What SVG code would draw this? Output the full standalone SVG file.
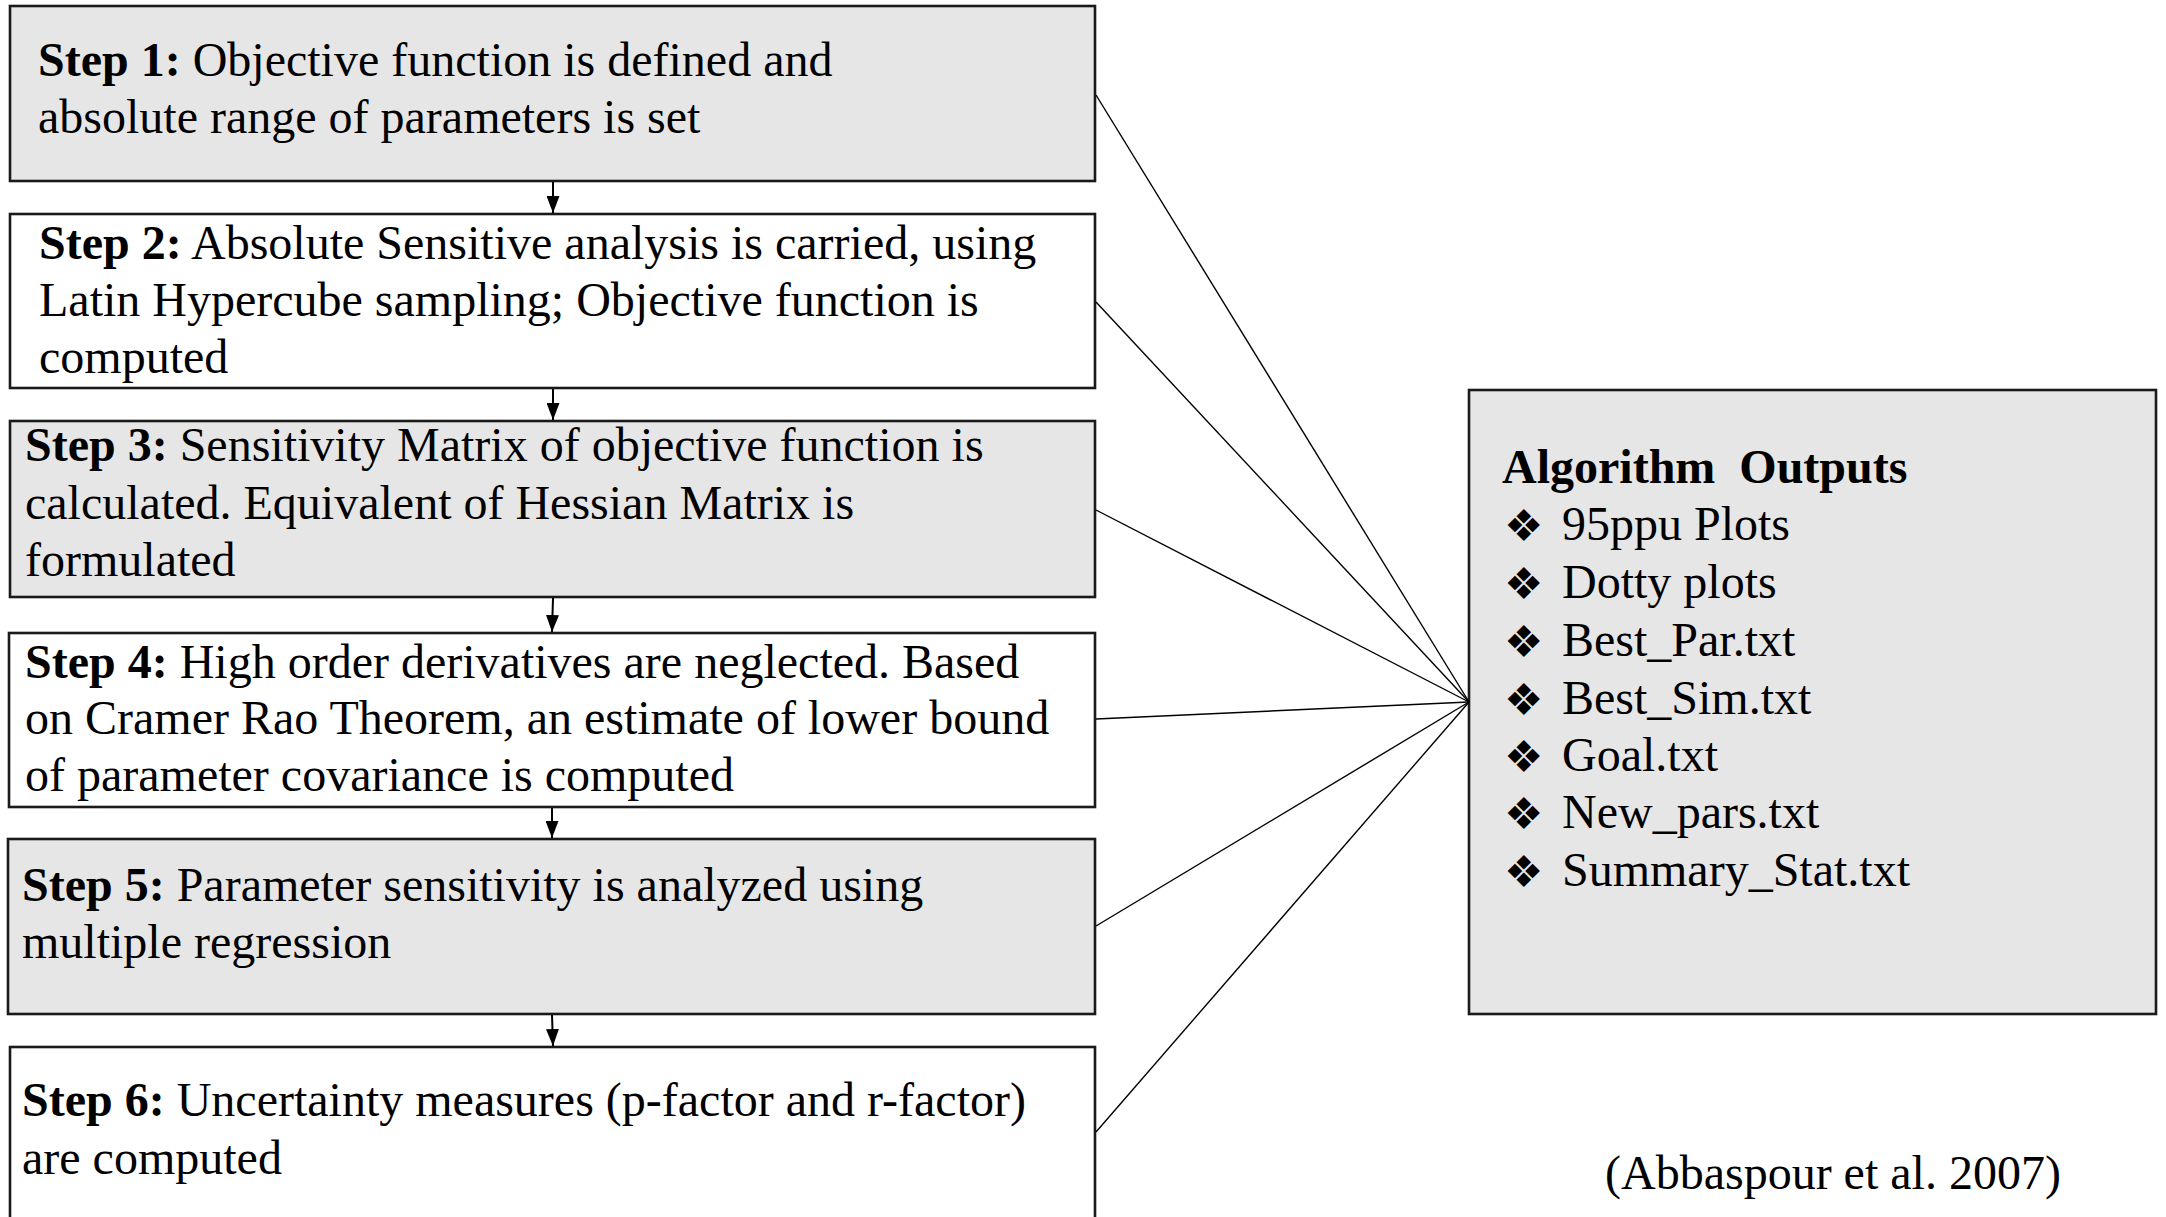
<svg xmlns="http://www.w3.org/2000/svg" width="2166" height="1217" viewBox="0 0 2166 1217">
<style>
.box{stroke:#1a1a1a;stroke-width:2.6}
.g{fill:#e6e6e6}
.w{fill:#ffffff}
text{font-family:"Liberation Serif","Times New Roman",serif;font-size:48px;fill:#000;white-space:pre}
.b{font-weight:bold}
.dia{font-family:"DejaVu Sans",sans-serif;font-size:44px}
.conn line{stroke:#000;stroke-width:1.4}
.arr line{stroke:#000;stroke-width:2}
</style>
<defs>
<marker id="ah" markerWidth="17" markerHeight="13" refX="17" refY="6.5" orient="auto" markerUnits="userSpaceOnUse" viewBox="0 0 17 13">
<path d="M0,0 L17,6.5 L0,13 Z" fill="#000"/>
</marker>
</defs>
<rect width="2166" height="1217" fill="#fff"/>
<g id="step1"><rect class="box g" x="10" y="6" width="1085" height="175"/>
<text x="38" y="76"><tspan class="b">Step 1:</tspan> Objective function is defined and</text>
<text x="38" y="133">absolute range of parameters is set</text></g>
<g id="step2"><rect class="box w" x="10" y="214" width="1085" height="174"/>
<text x="39" y="259"><tspan class="b">Step 2:</tspan> Absolute Sensitive analysis is carried, using</text>
<text x="39" y="316">Latin Hypercube sampling; Objective function is</text>
<text x="39" y="373">computed</text></g>
<g id="step3"><rect class="box g" x="10" y="421" width="1085" height="176"/>
<text x="25" y="461"><tspan class="b">Step 3:</tspan> Sensitivity Matrix of objective function is</text>
<text x="25" y="519">calculated. Equivalent of Hessian Matrix is</text>
<text x="25" y="576">formulated</text></g>
<g id="step4"><rect class="box w" x="9" y="633" width="1086" height="174"/>
<text x="25" y="678"><tspan class="b">Step 4:</tspan> High order derivatives are neglected. Based</text>
<text x="25" y="734">on Cramer Rao Theorem, an estimate of lower bound</text>
<text x="25" y="791">of parameter covariance is computed</text></g>
<g id="step5"><rect class="box g" x="8" y="839" width="1087" height="175"/>
<text x="22" y="901"><tspan class="b">Step 5:</tspan> Parameter sensitivity is analyzed using</text>
<text x="22" y="958">multiple regression</text></g>
<g id="step6"><rect class="box w" x="10" y="1047" width="1085" height="190"/>
<text x="22" y="1116"><tspan class="b">Step 6:</tspan> Uncertainty measures (p-factor and r-factor)</text>
<text x="22" y="1174">are computed</text></g>
<g id="outputs"><rect class="box g" x="1469" y="390" width="687" height="624"/>
<text class="b" x="1502" y="483">Algorithm  Outputs</text>
<text x="1504" y="541"><tspan class="dia">❖</tspan></text><text x="1562" y="540">95ppu Plots</text>
<text x="1504" y="599"><tspan class="dia">❖</tspan></text><text x="1562" y="598">Dotty plots</text>
<text x="1504" y="657"><tspan class="dia">❖</tspan></text><text x="1562" y="656">Best_Par.txt</text>
<text x="1504" y="715"><tspan class="dia">❖</tspan></text><text x="1562" y="714">Best_Sim.txt</text>
<text x="1504" y="772"><tspan class="dia">❖</tspan></text><text x="1562" y="771">Goal.txt</text>
<text x="1504" y="829"><tspan class="dia">❖</tspan></text><text x="1562" y="828">New_pars.txt</text>
<text x="1504" y="887"><tspan class="dia">❖</tspan></text><text x="1562" y="886">Summary_Stat.txt</text></g>
<g id="citation"><text x="1605" y="1189">(Abbaspour et al. 2007)</text></g>
<g id="connectors">
<g class="arr">
<line x1="553" y1="182" x2="553" y2="213" marker-end="url(#ah)"/>
<line x1="553" y1="389" x2="553" y2="420" marker-end="url(#ah)"/>
<line x1="553" y1="598" x2="552" y2="632" marker-end="url(#ah)"/>
<line x1="552" y1="808" x2="552" y2="838" marker-end="url(#ah)"/>
<line x1="552" y1="1015" x2="553" y2="1046" marker-end="url(#ah)"/>
</g>
<g class="conn">
<line x1="1096" y1="95" x2="1469" y2="702"/>
<line x1="1096" y1="302" x2="1469" y2="702"/>
<line x1="1096" y1="510" x2="1469" y2="702"/>
<line x1="1096" y1="719" x2="1469" y2="702"/>
<line x1="1096" y1="926" x2="1469" y2="702"/>
<line x1="1096" y1="1132" x2="1469" y2="702"/>
</g>
</g>
</svg>
